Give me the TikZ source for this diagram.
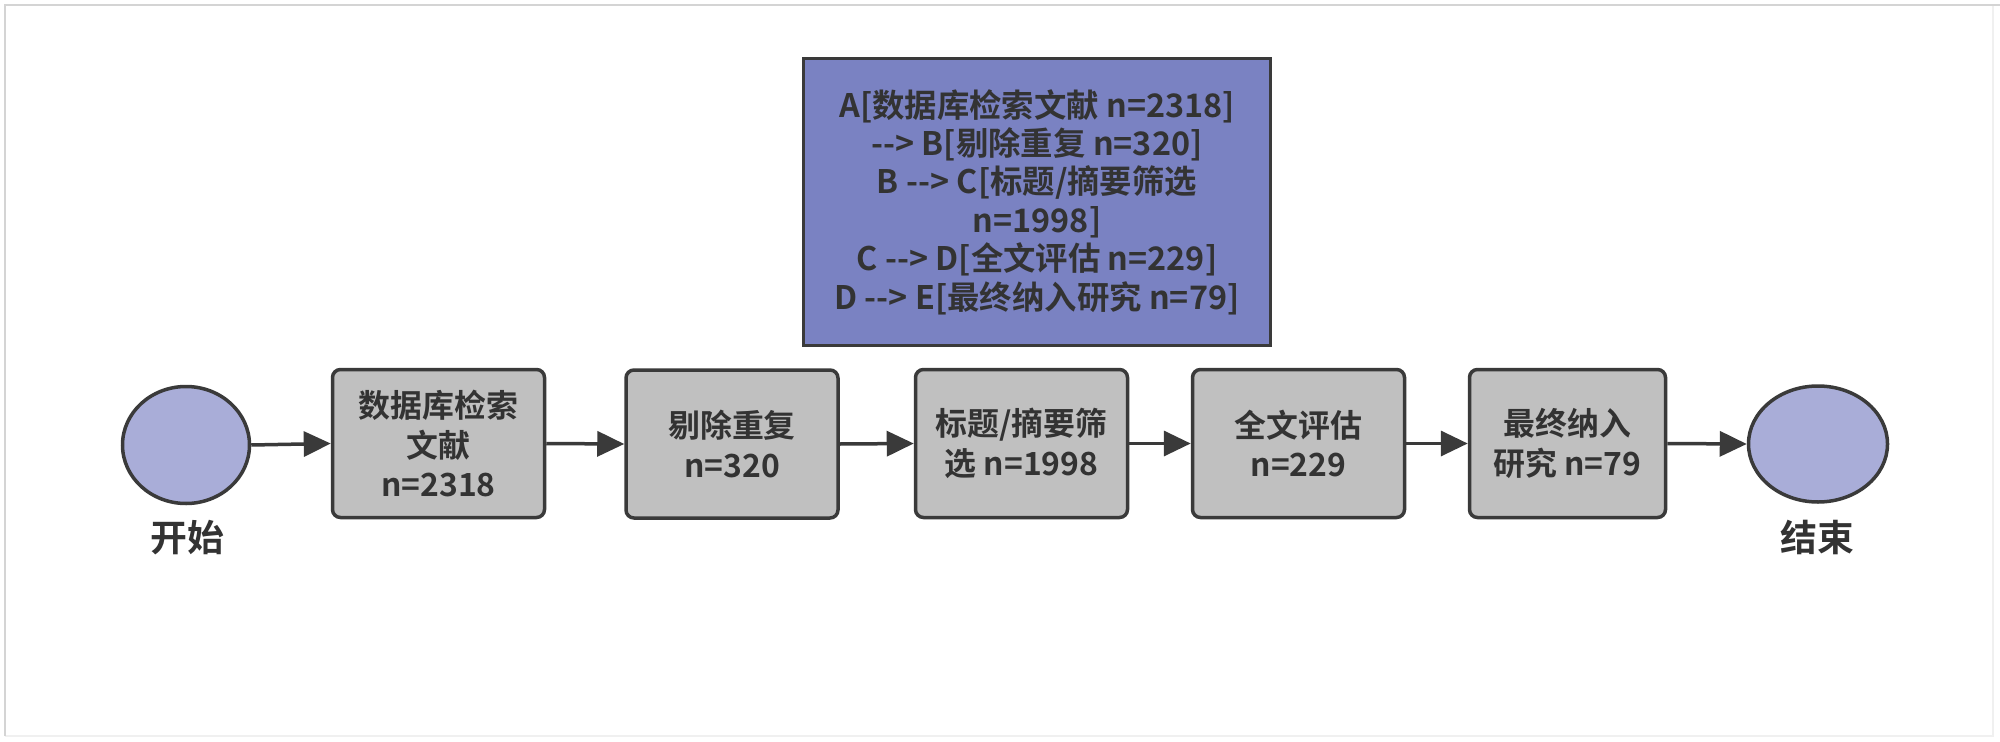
\documentclass[tikz,border=0pt]{standalone}
\usepackage{fontspec}
\setmainfont{Noto Sans CJK SC}[BoldFont={Noto Sans CJK SC Bold}]
\usetikzlibrary{shapes.geometric,arrows.meta}
\definecolor{edgec}{HTML}{3A3A3A}
\definecolor{txtc}{HTML}{333333}
\definecolor{boxc}{HTML}{C0C0C0}
\definecolor{termc}{HTML}{A9ADD8}
\definecolor{notec}{HTML}{7A82C2}
\definecolor{framec}{HTML}{D4D4D4}
\definecolor{framelc}{HTML}{F0F0F0}
\tikzset{
  proc/.style={draw=edgec, line width=3.5bp, fill=boxc, rounded corners=8bp,
    minimum width=212bp, minimum height=148bp, align=center, text=txtc,
    inner sep=0pt, font=\bfseries\fontsize{32}{40}\selectfont},
  term/.style={ellipse, draw=edgec, line width=3.5bp, fill=termc, inner sep=0pt},
  termlabel/.style={text=txtc, font=\bfseries\fontsize{37}{40}\selectfont, inner sep=0pt},
  flow/.style={-{Triangle[length=27bp,width=25bp]}, line width=3.5bp, draw=edgec},
  note/.style={draw=edgec, line width=3bp, fill=notec, minimum width=467bp,
    minimum height=287bp, align=center, text=txtc, inner sep=0pt,
    font=\bfseries\fontsize{32.5}{38.6}\selectfont},
}
\begin{document}
\begin{tikzpicture}[x=1bp,y=-1bp]
\useasboundingbox (0,0) rectangle (2000,742);
\fill[white] (0,0) rectangle (2000,742);
\draw[framelc, line width=1.5bp] (5,736) -- (1993,736) -- (1993,5);
\draw[framec, line width=1.5bp] (5,736) -- (5,5) -- (2000,5);

\node[note] (n) at (1037,202) {A[数据库检索文献 n=2318]\\-{}-> B[剔除重复 n=320]\\B -{}-> C[标题/摘要筛选\\n=1998]\\C -{}-> D[全文评估 n=229]\\D -{}-> E[最终纳入研究 n=79]};

\node[term, minimum width=127bp, minimum height=117bp] (s) at (186,445) {};
\node[termlabel] (sl) at (187,538) {开始};
\node[term, minimum width=139bp, minimum height=116bp] (e) at (1818,444) {};
\node[termlabel] (el) at (1817,537) {结束};

\node[proc] (b1) at (438.5,443.5) {数据库检索\\文献\\n=2318};
\node[proc] (b2) at (732,444) {剔除重复\\n=320};
\node[proc] (b3) at (1021.5,443.5) {标题/摘要筛\\选 n=1998};
\node[proc] (b4) at (1298.5,443.5) {全文评估\\n=229};
\node[proc, minimum width=196bp] (b5) at (1567.5,443.5) {最终纳入\\研究 n=79};

\draw[flow] (s.east) -- (b1.west);
\draw[flow] (b1.east) -- (b2.west);
\draw[flow] (b2.east) -- (b3.west);
\draw[flow] (b3.east) -- (b4.west);
\draw[flow] (b4.east) -- (b5.west);
\draw[flow] (b5.east) -- (e.west);
\end{tikzpicture}
\end{document}
